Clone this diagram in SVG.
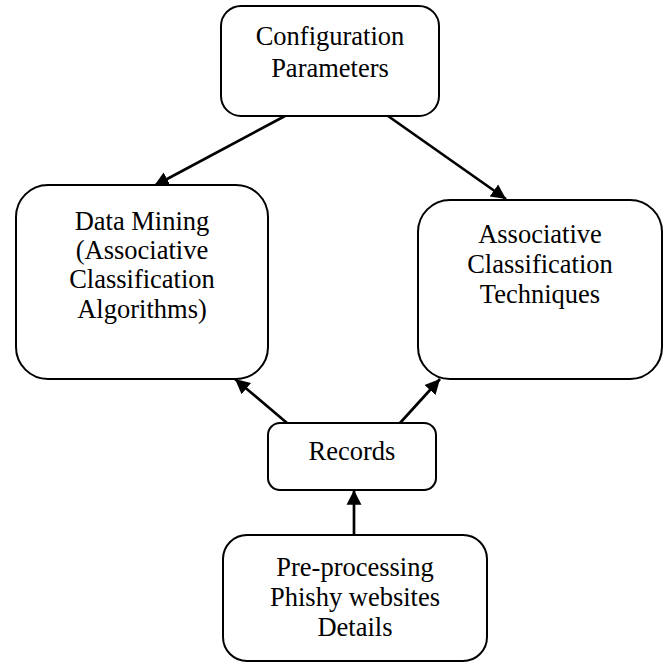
<svg xmlns="http://www.w3.org/2000/svg" width="667" height="664" viewBox="0 0 667 664">
<style>
.box{fill:#fff;stroke:#000;stroke-width:2}
.t{font-family:"Liberation Serif","Times New Roman",serif;font-size:26.5px;text-anchor:middle;fill:#000}
.c{stroke:#000;stroke-width:2.7;fill:none;marker-end:url(#ah)}
</style>
<defs>
<marker id="ah" viewBox="0 0 10 10" refX="10" refY="5" markerWidth="5.5" markerHeight="5.8" markerUnits="strokeWidth" orient="auto">
<path d="M0,0 L10,5 L0,10 z" fill="#000"/>
</marker>
</defs>
<g id="connectors">
<line class="c" x1="285" y1="116" x2="154" y2="186"/>
<line class="c" x1="388" y1="116" x2="506" y2="199"/>
<line class="c" x1="287" y1="423" x2="235" y2="379"/>
<line class="c" x1="400" y1="423" x2="440" y2="379"/>
<line class="c" x1="354" y1="535" x2="354" y2="490"/>
</g>
<g id="config">
<rect class="box" x="221" y="6" width="218" height="110" rx="20"/>
<text class="t" x="330" y="45">Configuration</text>
<text class="t" x="330" y="77">Parameters</text>
</g>
<g id="datamining">
<rect class="box" x="16" y="185" width="252" height="194" rx="32"/>
<text class="t" x="142" y="230">Data Mining</text>
<text class="t" x="142" y="259">(Associative</text>
<text class="t" x="142" y="288">Classification</text>
<text class="t" x="142" y="318">Algorithms)</text>
</g>
<g id="assoc">
<rect class="box" x="418" y="200" width="244" height="179" rx="32"/>
<text class="t" x="540" y="243">Associative</text>
<text class="t" x="540" y="273">Classification</text>
<text class="t" x="540" y="303">Techniques</text>
</g>
<g id="records">
<rect class="box" x="268" y="423" width="168" height="67" rx="12"/>
<text class="t" x="352" y="460">Records</text>
</g>
<g id="preprocessing">
<rect class="box" x="223" y="535" width="264" height="126" rx="24"/>
<text class="t" x="355" y="576">Pre-processing</text>
<text class="t" x="355" y="606">Phishy websites</text>
<text class="t" x="355" y="636">Details</text>
</g>
</svg>
